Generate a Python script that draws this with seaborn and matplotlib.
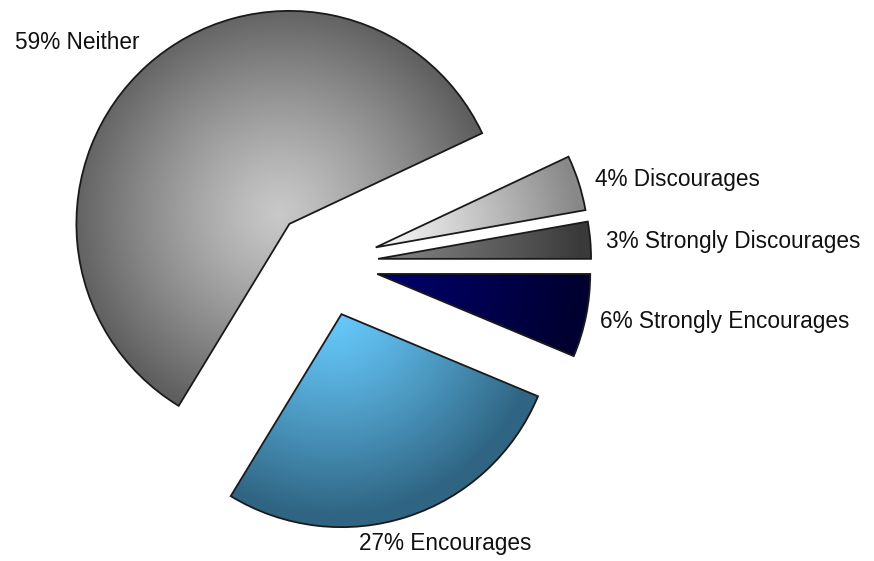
import numpy as np
import matplotlib
matplotlib.use("Agg")
import matplotlib.pyplot as plt
import seaborn as sns

# ---- data ----
categories = ["Strongly Discourages", "Discourages", "Neither", "Encourages", "Strongly Encourages"]
shares = [2.8, 4.2, 59.3, 27.4, 6.3]          # slice sizes (percent)
label_pcts = [3, 4, 59, 27, 6]                # percentages printed in labels

# ---- styles ----
light_colors = ["#858585", "#fafafa", "#c8c8c8", "#68ccff", "#00006e"]
dark_colors = ["#3a3a3a", "#888888", "#5e5e5e", "#2f6482", "#000030"]
grad_gamma = 1.2

# ---- layout ----
W, H = 874, 561
center = (325, 263.5)
radius = 213
explode_frac = 0.25
label_dist = 1.08
grad_offset = (-9, -10)
label_ha = ["left", "left", "right", "left", "left"]
label_off = [(-1, 9.7), (0, 8.6), (4, -3.7), (-54, 17.4), (-2.5, 9.1)]

sns.set_theme(style="white")
plt.rcParams["font.family"] = ["Liberation Sans", "DejaVu Sans"]

fig = plt.figure(figsize=(W / 100, H / 100), dpi=100)
ax = fig.add_axes([0, 0, 1, 1])

wedges, _ = ax.pie(
    shares,
    center=center,
    radius=radius,
    startangle=0,
    counterclock=False,
    explode=[explode_frac * radius] * len(shares),
    labeldistance=None,
    wedgeprops=dict(edgecolor="#1a1a1a", linewidth=1.3),
)

xx, yy = np.meshgrid(np.arange(W) + 0.5, np.arange(H) + 0.5)
for w, lc, dc in zip(wedges, light_colors, dark_colors):
    cmap = sns.blend_palette([lc, dc], as_cmap=True)
    cx, cy = w.center
    gx, gy = cx + grad_offset[0], cy + grad_offset[1]
    t = np.clip(np.hypot(xx - gx, yy - gy) / radius, 0, 1) ** grad_gamma
    im = ax.imshow(t, cmap=cmap, vmin=0, vmax=1, extent=(0, W, H, 0),
                   origin="upper", interpolation="bilinear", zorder=1)
    im.set_clip_path(w)
    w.set_facecolor("none")
    w.set_zorder(2)

for w, cat, pct, ha, (dx, dy) in zip(wedges, categories, label_pcts, label_ha, label_off):
    thetam = np.deg2rad(0.5 * (w.theta1 + w.theta2))
    cx, cy = w.center
    x = cx + label_dist * radius * np.cos(thetam) + dx
    y = cy + label_dist * radius * np.sin(thetam) + dy
    ax.text(x, y, f"{pct}% {cat}", ha=ha, va="baseline", fontsize=16.3, color="#111111")

ax.set_xlim(0, W)
ax.set_ylim(H, 0)
ax.set_aspect("equal")
ax.axis("off")
fig.savefig("out.png", dpi=100)
